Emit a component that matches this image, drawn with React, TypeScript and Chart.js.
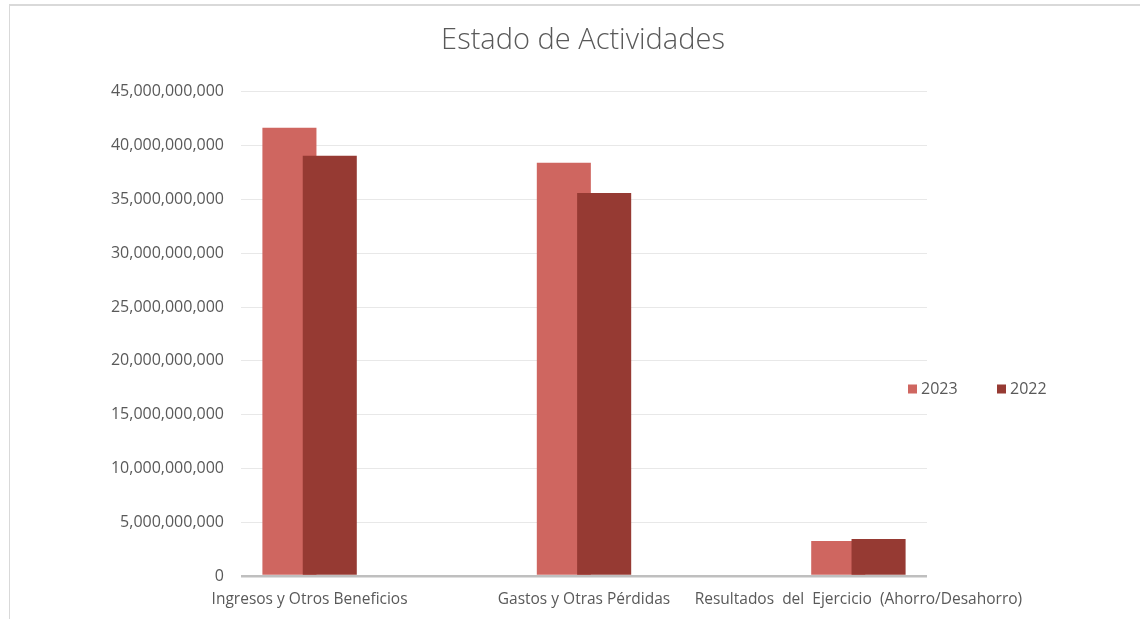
import React, { useEffect, useRef } from "react";
import { Chart, registerables } from "chart.js";

Chart.register(...registerables);

// ---- data ----
const categories = [
  "Ingresos y Otros Beneficios",
  "Gastos y Otras Pérdidas",
  "Resultados  del  Ejercicio  (Ahorro/Desahorro)",
];
const seriesLabels = ["2023", "2022"];
const values2023 = [41650000000, 38400000000, 3250000000];
const values2022 = [39050000000, 35600000000, 3450000000];
const yMin = 0;
const yMax = 45000000000;
const yStep = 5000000000;
const chartTitle = "Estado de Actividades";

const seriesColors = ["#CF6660", "#963A33"];
const FONT = "'Open Sans', 'Noto Sans', sans-serif";
const GRAY = "#595959";

// Draw datasets in index order so the second series overlaps the first
const drawOrderPlugin = {
  id: "drawOrder",
  beforeDatasetsDraw(chart: any) {
    const metas = chart.getSortedVisibleDatasetMetas();
    const sorted = [...metas].sort((a: any, b: any) => a.index - b.index);
    for (const meta of sorted) meta.controller.draw();
    return false;
  },
};

// Single-row legend at the right
const sideLegendPlugin = {
  id: "sideLegend",
  afterDraw(chart: any, _args: any, opts: any) {
    const ctx = chart.ctx;
    ctx.save();
    ctx.font = `16px ${FONT}`;
    ctx.textBaseline = "middle";
    ctx.textAlign = "left";
    let x = opts.x;
    chart.data.datasets.forEach((ds: any) => {
      ctx.fillStyle = ds.backgroundColor;
      ctx.fillRect(x, opts.y - 4.5, 9, 9);
      ctx.fillStyle = GRAY;
      ctx.fillText(ds.label, x + 13, opts.y + 0.5);
      x += opts.spacing;
    });
    ctx.restore();
  },
};

export default function App() {
  const canvasRef = useRef<HTMLCanvasElement | null>(null);

  useEffect(() => {
    if (!canvasRef.current) return;
    const chart = new Chart(canvasRef.current, {
      type: "bar",
      data: {
        labels: categories,
        datasets: [
          {
            label: seriesLabels[0],
            data: values2023,
            backgroundColor: seriesColors[0],
            borderWidth: 0,
            categoryPercentage: 0.294,
            barPercentage: 1.34,
          },
          {
            label: seriesLabels[1],
            data: values2022,
            backgroundColor: seriesColors[1],
            borderWidth: 0,
            categoryPercentage: 0.294,
            barPercentage: 1.34,
          },
        ],
      },
      plugins: [drawOrderPlugin, sideLegendPlugin],
      options: {
        responsive: false,
        animation: false,
        layout: { padding: { left: 26, right: 0, top: 0, bottom: 0 } },
        plugins: {
          legend: { display: false },
          tooltip: { enabled: false },
          title: {
            display: true,
            text: chartTitle,
            color: GRAY,
            font: { family: FONT, size: 29, weight: "300" as any },
            padding: { top: 23, bottom: 34 },
          },
          sideLegend: { x: 908, y: 389, spacing: 89 },
        } as any,
        scales: {
          x: {
            type: "category",
            offset: true,
            grid: { display: false, drawTicks: false },
            border: { display: false },
            ticks: {
              color: GRAY,
              font: { family: FONT, size: 15.5 },
              padding: 14,
              maxRotation: 0,
              minRotation: 0,
              autoSkip: false,
            },
            afterBuildTicks: (scale: any) => {
              scale._startValue = -0.25;
              scale._valueRange = categories.length - 0.5;
            },
            afterFit: (scale: any) => {
              scale.height = 43;
            },
          },
          y: {
            min: yMin,
            max: yMax,
            border: { display: false },
            grid: {
              drawTicks: false,
              color: (c: any) => (c.tick && c.tick.value === 0 ? "#BFBFBF" : "#E8E8E8"),
              lineWidth: (c: any) => (c.tick && c.tick.value === 0 ? 2.5 : 1),
            },
            ticks: {
              stepSize: yStep,
              color: GRAY,
              font: { family: FONT, size: 16 },
              padding: 17,
              callback: (v: any) => Number(v).toLocaleString("en-US"),
            },
            afterFit: (scale: any) => {
              scale.width = 215;
            },
          },
          yRight: {
            position: "right",
            min: yMin,
            max: yMax,
            border: { display: false },
            grid: { display: false, drawTicks: false },
            ticks: { display: false },
            afterFit: (scale: any) => {
              scale.width = 213;
            },
          },
        },
      },
    });
    return () => chart.destroy();
  }, []);

  return (
    <div
      style={{
        position: "absolute",
        left: 0,
        top: 0,
        width: 1140,
        height: 619,
        overflow: "hidden",
        background: "#ffffff",
      }}
    >
      <div
        style={{
          position: "absolute",
          left: 9,
          top: 4,
          width: 1200,
          height: 700,
          borderTop: "2px solid #D9D9D9",
          borderLeft: "1px solid #D9D9D9",
        }}
      />
      <canvas
        ref={canvasRef}
        width={1140}
        height={619}
        style={{ position: "absolute", left: 0, top: 0 }}
      />
    </div>
  );
}
